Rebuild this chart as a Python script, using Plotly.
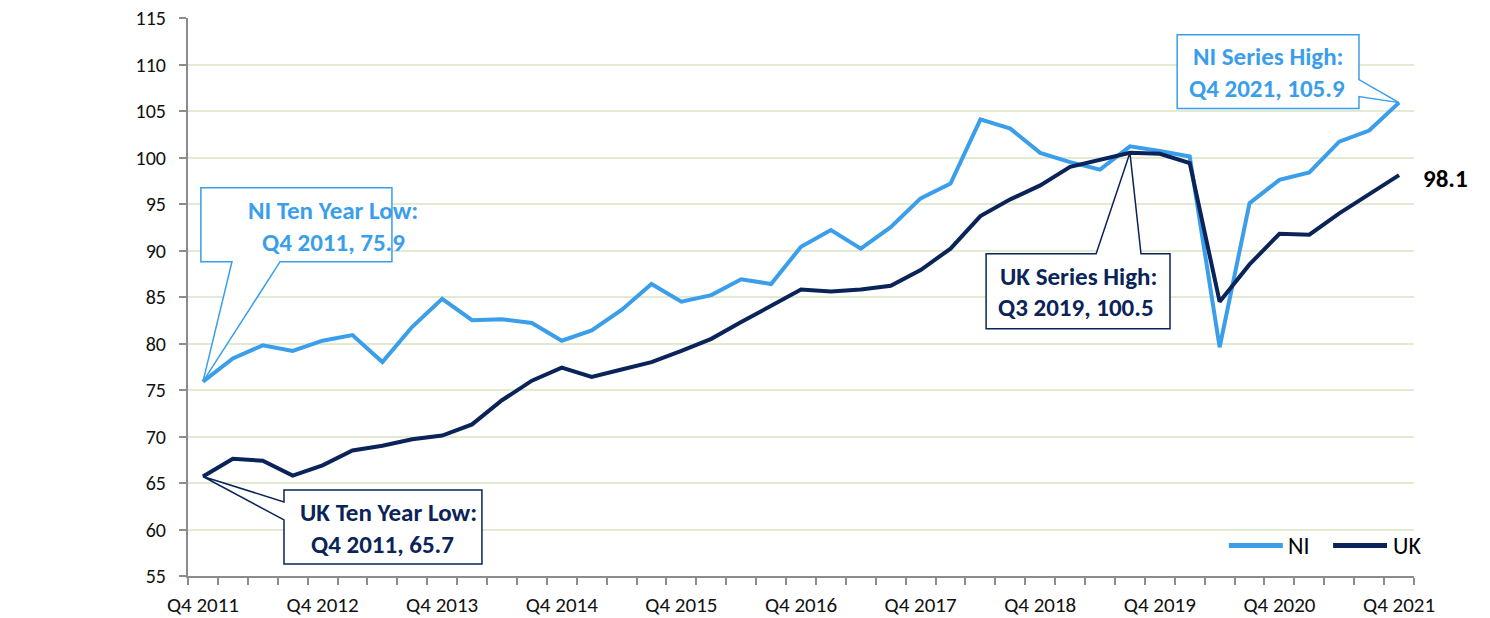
import plotly.graph_objects as go

quarters = [
    "Q4 2011",
    "Q1 2012", "Q2 2012", "Q3 2012", "Q4 2012",
    "Q1 2013", "Q2 2013", "Q3 2013", "Q4 2013",
    "Q1 2014", "Q2 2014", "Q3 2014", "Q4 2014",
    "Q1 2015", "Q2 2015", "Q3 2015", "Q4 2015",
    "Q1 2016", "Q2 2016", "Q3 2016", "Q4 2016",
    "Q1 2017", "Q2 2017", "Q3 2017", "Q4 2017",
    "Q1 2018", "Q2 2018", "Q3 2018", "Q4 2018",
    "Q1 2019", "Q2 2019", "Q3 2019", "Q4 2019",
    "Q1 2020", "Q2 2020", "Q3 2020", "Q4 2020",
    "Q1 2021", "Q2 2021", "Q3 2021", "Q4 2021",
]

ni_values = [
    75.9,
    78.4, 79.8, 79.2, 80.3,
    80.9, 78.0, 81.8, 84.8,
    82.5, 82.6, 82.2, 80.3,
    81.4, 83.6, 86.4, 84.5,
    85.2, 86.9, 86.4, 90.4,
    92.2, 90.2, 92.5, 95.6,
    97.2, 104.1, 103.1, 100.5,
    99.5, 98.7, 101.2, 100.7,
    100.1, 79.6, 95.1, 97.6,
    98.4, 101.7, 102.9, 105.9,
]

uk_values = [
    65.7,
    67.6, 67.4, 65.8, 66.9,
    68.5, 69.0, 69.7, 70.1,
    71.3, 73.9, 76.0, 77.4,
    76.4, 77.2, 78.0, 79.2,
    80.5, 82.3, 84.1, 85.8,
    85.6, 85.8, 86.2, 87.9,
    90.2, 93.7, 95.5, 97.0,
    99.0, 99.8, 100.5, 100.4,
    99.4, 84.5, 88.5, 91.8,
    91.7, 94.0, 96.0, 98.1,
]

tick_labels = ["Q4 2011", "Q4 2012", "Q4 2013", "Q4 2014", "Q4 2015", "Q4 2016",
               "Q4 2017", "Q4 2018", "Q4 2019", "Q4 2020", "Q4 2021"]

series_names = ["NI", "UK"]

NI_COLOR = "#3A9EEA"
UK_COLOR = "#0A2358"
FONT = "Carlito, Lato, 'Open Sans', sans-serif"
BIG = 25

x_idx = list(range(len(quarters)))
tick_pos = [quarters.index(t) for t in tick_labels]

fig = go.Figure()
fig.add_trace(go.Scatter(x=x_idx, y=ni_values, mode="lines", name=series_names[0],
                         line=dict(color=NI_COLOR, width=4), text=quarters,
                         hovertemplate="%{text}: %{y}<extra>NI</extra>"))
fig.add_trace(go.Scatter(x=x_idx, y=uk_values, mode="lines", name=series_names[1],
                         line=dict(color=UK_COLOR, width=4), text=quarters,
                         hovertemplate="%{text}: %{y}<extra>UK</extra>"))


def callout(x0, x1, y0, y1, side, a, b, tip, color):
    tx, ty = tip
    TL, TR, BR, BL = (x0, y1), (x1, y1), (x1, y0), (x0, y0)
    pts = [TL]
    if side == "top":
        pts += [(a, y1), (tx, ty), (b, y1)]
    pts.append(TR)
    if side == "right":
        pts += [(x1, b), (tx, ty), (x1, a)]
    pts.append(BR)
    if side == "bottom":
        pts += [(b, y0), (tx, ty), (a, y0)]
    pts.append(BL)
    if side == "left":
        pts += [(x0, a), (tx, ty), (x0, b)]
    path = "M " + " L ".join(f"{px},{py}" for px, py in pts) + " Z"
    fig.add_shape(type="path", path=path, xref="x", yref="y",
                  line=dict(color=color, width=1.5), fillcolor="white", layer="above")


def label(x, y, text, color, size=BIG, xanchor="center"):
    fig.add_annotation(x=x, y=y, xref="x", yref="y", text=f"<b>{text}</b>",
                       showarrow=False, xanchor=xanchor, yanchor="middle",
                       font=dict(family=FONT, size=size, color=color))


ni_low_i = ni_values.index(min(ni_values[:8]))
uk_low_i = uk_values.index(min(uk_values[:8]))
uk_high_i = uk_values.index(max(uk_values))
ni_high_i = ni_values.index(max(ni_values))

# NI ten year low
callout(-0.07, 6.32, 88.8, 96.76, "bottom", 0.97, 2.58, (ni_low_i, ni_values[ni_low_i]), NI_COLOR)
label(4.36, 94.35, "NI Ten Year Low:", NI_COLOR)
label(4.36, 90.85, f"{quarters[ni_low_i]}, {ni_values[ni_low_i]}", NI_COLOR)

# UK ten year low
callout(2.71, 9.33, 56.3, 64.26, "left", 61.03, 62.97, (uk_low_i, uk_values[uk_low_i]), UK_COLOR)
label(6.2, 61.8, "UK Ten Year Low:", UK_COLOR)
label(6.02, 58.35, f"{quarters[uk_low_i]}, {uk_values[uk_low_i]}", UK_COLOR)

# UK series high
callout(26.19, 32.34, 81.58, 89.65, "top", 29.87, 31.37, (uk_high_i, uk_values[uk_high_i]), UK_COLOR)
label(29.27, 87.2, "UK Series High:", UK_COLOR)
label(29.2, 83.85, f"{quarters[uk_high_i]}, {uk_values[uk_high_i]}", UK_COLOR)

# NI series high
callout(32.58, 38.66, 105.26, 113.2, "right", 106.55, 108.38, (ni_high_i, ni_values[ni_high_i]), NI_COLOR)
label(35.62, 110.86, "NI Series High:", NI_COLOR)
label(35.6, 107.4, f"{quarters[ni_high_i]}, {ni_values[ni_high_i]}", NI_COLOR)

# last UK value
fig.add_annotation(x=x_idx[-1], y=uk_values[-1], xref="x", yref="y",
                   text=f"<b>{uk_values[-1]}</b>", showarrow=False,
                   xanchor="left", yanchor="middle", xshift=22, yshift=-3,
                   font=dict(family=FONT, size=BIG, color="black"))

# side note
for yy, t in [(89.7, "Figures are"), (86.45, "indexed to"), (83.0, "2019 = 100")]:
    fig.add_annotation(x=-4.45, y=yy, xref="x", yref="y", text=f"<b>{t}</b>",
                       showarrow=False, xanchor="center", yanchor="middle",
                       font=dict(family=FONT, size=BIG, color="black"))

# legend (drawn to match the long swatches of the original)
leg_y = 0.0547
for (x0, x1, xt), name, col in zip([(0.849, 0.893, 0.896), (0.934, 0.978, 0.981)],
                                   series_names, [NI_COLOR, UK_COLOR]):
    fig.add_shape(type="line", xref="paper", yref="paper", x0=x0, x1=x1, y0=leg_y, y1=leg_y,
                  line=dict(color=col, width=5), layer="above")
    fig.add_annotation(x=xt, y=leg_y, xref="paper", yref="paper", text=name, showarrow=False,
                       xanchor="left", yanchor="middle",
                       font=dict(family=FONT, size=24, color="black"))

fig.update_layout(
    width=1490, height=618,
    margin=dict(l=188, r=76, t=18, b=42, autoexpand=False),
    paper_bgcolor="white", plot_bgcolor="white",
    font=dict(family=FONT, size=20, color="#111111"),
    showlegend=False,
    hovermode="closest",
)

fig.update_xaxes(
    range=[-0.5, len(quarters) - 0.5],
    tickmode="array", tickvals=tick_pos, ticktext=tick_labels,
    ticks="", showgrid=False, zeroline=False,
    showline=True, linecolor="#8C8C8C", linewidth=2,
    ticklabelstandoff=9,
    tickfont=dict(family=FONT, size=21, color="#111111"),
    minor=dict(tickmode="array", tickvals=[i - 0.5 for i in range(len(quarters) + 1)],
               ticks="outside", ticklen=7, tickwidth=1.5, tickcolor="#8C8C8C", showgrid=False),
)
fig.update_yaxes(
    range=[55, 115], tickmode="linear", tick0=55, dtick=5,
    ticks="outside", ticklen=7, tickwidth=1.5, tickcolor="#8C8C8C",
    showgrid=True, gridcolor="#E2EAD2", gridwidth=1.5,
    zeroline=False, showline=True, linecolor="#8C8C8C", linewidth=2,
    ticklabelstandoff=9,
    tickfont=dict(family=FONT, size=20, color="#111111"),
)

fig.write_html("out.html", config={"displayModeBar": False},
               post_script="document.body.style.margin='0px';")
